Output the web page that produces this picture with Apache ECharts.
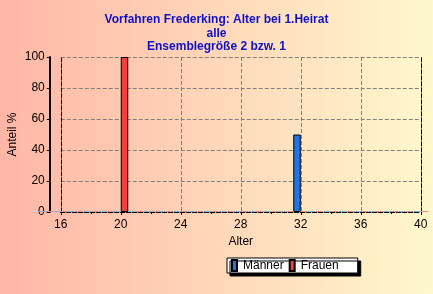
<!DOCTYPE html>
<html><head><meta charset="utf-8">
<script src="https://cdn.jsdelivr.net/npm/echarts@6/dist/echarts.min.js"></script>
<style>html,body{margin:0;padding:0}#c{width:433px;height:294px}</style>
</head><body><div id="c"></div>
<script>
const titleLines = ['Vorfahren Frederking: Alter bei 1.Heirat', 'alle', 'Ensemblegröße 2 bzw. 1'];
const ages = [15,16,17,18,19,20,21,22,23,24,25,26,27,28,29,30,31,32,33,34,35,36,37,38,39,40];
const maenner = [0,0,0,0,0,0,0,0,0,0,0,0,0,0,0,0,0,50,0,0,0,0,0,0,0,0];
const frauen  = [0,0,0,0,0,100,0,0,0,0,0,0,0,0,0,0,0,0,0,0,0,0,0,0,0,0];
const xTicks = [16,20,24,28,32,36,40];
const yTicks = [0,20,40,60,80,100];
const seriesNames = ['Männer','Frauen'];
const colors = ['#1f74e8','#f04040'];
const zeroColors = ['#7fb0f0','#f08a80'];

const FONT = 'Liberation Sans, Arial, sans-serif';
function mk(vals, i){
  return ages.map((a,k)=>{
    const v = vals[k];
    if (v === 0) return {value:[a,0], itemStyle:{color:zeroColors[i], borderWidth:0}};
    return {value:[a,v]};
  });
}
const chart = echarts.init(document.getElementById('c'), null, {renderer:'canvas'});
const G0 = {left:60.75, top:57, width:360, height:155};
const G1 = {left:49.5, top:57, width:378.75, height:155};
chart.setOption({
  animation:false,
  backgroundColor:{type:'linear',x:0,y:0,x2:1,y2:0,colorStops:[{offset:0,color:'#ffb6a6'},{offset:1,color:'#fff8cc'}]},
  title:{text:titleLines.join('\n'), left:'center', top:8,
    textStyle:{fontFamily:FONT,fontSize:12,fontWeight:'bold',color:'#1010c4',lineHeight:13.5}},
  legend:{data:seriesNames, left:227, top:258, orient:'horizontal', icon:'rect',
    itemWidth:5, itemHeight:11, itemGap:5, padding:[1,19,1,4],
    backgroundColor:'#fff', borderColor:'#000', borderWidth:1,
    shadowColor:'#000', shadowOffsetX:3, shadowOffsetY:3, shadowBlur:0,
    textStyle:{fontFamily:FONT,fontSize:12,color:'#000',padding:[0,0,0,1]}},
  grid:[Object.assign({containLabel:false, outerBoundsMode:'none'},G0), Object.assign({containLabel:false, outerBoundsMode:'none'},G1)],
  xAxis:[
    {type:'value', gridIndex:0, min:xTicks[0], max:xTicks[xTicks.length-1], interval:4,
     name:'Alter', nameLocation:'middle', nameGap:24, nameMoveOverlap:false,
     nameTextStyle:{fontFamily:FONT,fontSize:12,color:'#000'},
     axisLine:{show:true,lineStyle:{color:'#000',type:'dashed',width:1}},
     axisTick:{show:true,length:3,lineStyle:{color:'#000'}},
     minorTick:{show:true,splitNumber:2,length:2,lineStyle:{color:'#000'}},
     axisLabel:{fontFamily:FONT,fontSize:12,color:'#000',margin:7},
     splitLine:{show:true,lineStyle:{color:'#808080',type:'dashed',width:1}}},
    {type:'value', gridIndex:0, position:'top', min:16, max:40,
     axisLine:{show:true,lineStyle:{color:'#000',type:'dashed',width:1}},
     axisTick:{show:false}, axisLabel:{show:false}, splitLine:{show:false}},
    {type:'value', gridIndex:1, min:15.25, max:40.5, show:false}
  ],
  yAxis:[
    {type:'value', gridIndex:0, min:0, max:100, interval:20, offset:11,
     name:'Anteil %', nameLocation:'middle', nameGap:31, nameRotate:90, nameMoveOverlap:false,
     nameTextStyle:{fontFamily:FONT,fontSize:12,color:'#000'},
     axisLine:{show:true,lineStyle:{color:'#000',width:2}},
     axisTick:{show:true,length:3,lineStyle:{color:'#000'}},
     axisLabel:{fontFamily:FONT,fontSize:12,color:'#000',margin:5},
     splitLine:{show:true,lineStyle:{color:'#808080',type:'dashed',width:1}}},
    {type:'value', gridIndex:0, position:'left', offset:0, min:0, max:100,
     axisLine:{show:true,lineStyle:{color:'#000',type:'dashed',width:1}},
     axisTick:{show:false}, axisLabel:{show:false}, splitLine:{show:false}},
    {type:'value', gridIndex:0, position:'right', min:0, max:100,
     axisLine:{show:true,lineStyle:{color:'#000',type:'dashed',width:1}},
     axisTick:{show:false}, axisLabel:{show:false}, splitLine:{show:false}},
    {type:'value', gridIndex:1, min:0, max:100, show:false}
  ],
  series:[
    {name:seriesNames[0], type:'bar', xAxisIndex:2, yAxisIndex:3, data:mk(maenner,0),
     barWidth:7.5, barGap:'0%', barMinHeight:1, z:3,
     itemStyle:{color:colors[0], borderColor:'#000', borderWidth:1}},
    {name:seriesNames[1], type:'bar', xAxisIndex:2, yAxisIndex:3, data:mk(frauen,1),
     barWidth:7.5, barGap:'0%', barMinHeight:1, z:3,
     itemStyle:{color:colors[1], borderColor:'#000', borderWidth:1}}
  ]
});
</script></body></html>
